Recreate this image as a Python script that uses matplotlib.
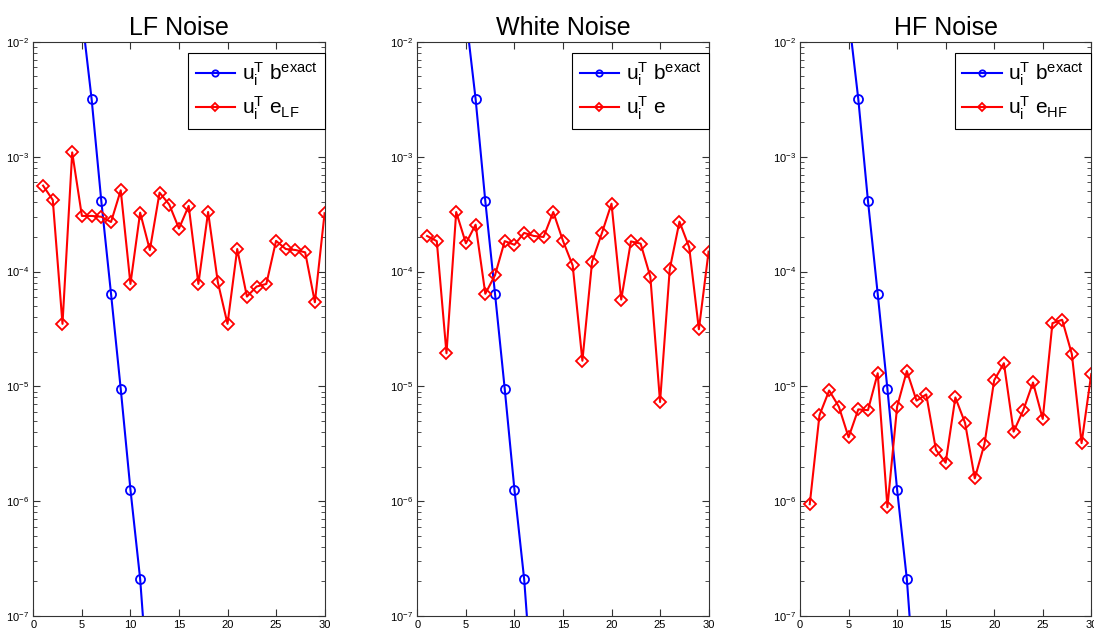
import numpy as np
import matplotlib
matplotlib.use("Agg")
import matplotlib.pyplot as plt
from matplotlib.ticker import LogLocator, NullFormatter

plt.rcParams["font.family"] = ["Liberation Sans", "DejaVu Sans"]
plt.rcParams["mathtext.fontset"] = "custom"
plt.rcParams["mathtext.rm"] = "Liberation Sans"
plt.rcParams["mathtext.it"] = "Liberation Sans:italic"

# index i
idx_exact = [1, 2, 3, 4, 5, 6, 7, 8, 9, 10, 11, 12, 13]
idx_noise = list(range(1, 31))

# |u_i^T b_exact| (same in all panels)
b_exact = [6.0e-1, 3.0e-1, 1.2e-1, 5.0e-2, 1.7e-2, 3.18e-3, 4.1e-4, 6.4e-5,
           9.5e-6, 1.26e-6, 2.1e-7, 1.5e-8, 1.5e-9]

# |u_i^T e| for the three noise types
e_lf = [5.6e-4, 4.2e-4, 3.5e-5, 1.09e-3, 3.05e-4, 3.05e-4, 3.0e-4, 2.7e-4,
        5.1e-4, 7.8e-5, 3.26e-4, 1.54e-4, 4.87e-4, 3.83e-4, 2.37e-4, 3.73e-4,
        7.8e-5, 3.3e-4, 8.1e-5, 3.5e-5, 1.57e-4, 6.05e-5, 7.4e-5, 7.8e-5,
        1.85e-4, 1.57e-4, 1.54e-4, 1.47e-4, 5.4e-5, 3.22e-4]
e_white = [2.04e-4, 1.84e-4, 1.94e-5, 3.3e-4, 1.76e-4, 2.56e-4, 6.4e-5, 9.3e-5,
           1.84e-4, 1.71e-4, 2.17e-4, 2.04e-4, 2.0e-4, 3.3e-4, 1.85e-4, 1.13e-4,
           1.67e-5, 1.22e-4, 2.15e-4, 3.9e-4, 5.7e-5, 1.83e-4, 1.75e-4, 9.0e-5,
           7.3e-6, 1.05e-4, 2.72e-4, 1.63e-4, 3.14e-5, 1.49e-4]
e_hf = [9.4e-7, 5.6e-6, 9.2e-6, 6.65e-6, 3.6e-6, 6.3e-6, 6.2e-6, 1.3e-5,
        8.85e-7, 6.65e-6, 1.36e-5, 7.5e-6, 8.5e-6, 2.8e-6, 2.16e-6, 8.0e-6,
        4.8e-6, 1.58e-6, 3.15e-6, 1.13e-5, 1.59e-5, 4.03e-6, 6.2e-6, 1.08e-5,
        5.2e-6, 3.55e-5, 3.8e-5, 1.91e-5, 3.2e-6, 1.28e-5]

titles = ["LF Noise", "White Noise", "HF Noise"]
noise = [e_lf, e_white, e_hf]
noise_labels = [r"$\mathrm{u_i^T\ e_{LF}}$", r"$\mathrm{u_i^T\ e}$",
                r"$\mathrm{u_i^T\ e_{HF}}$"]
exact_label = r"$\mathrm{u_i^T\ b^{exact}}$"

fig = plt.figure(figsize=(10.94, 6.35), dpi=100)
lefts = [0.0305, 0.3815, 0.7313]
width = 0.2662

for k in range(3):
    ax = fig.add_axes([lefts[k], 0.030, width, 0.904])
    ax.semilogy(idx_exact, b_exact, "-o", color="blue", lw=1.5, ms=6.5,
                mfc="none", mew=1.3, label=exact_label)
    ax.semilogy(idx_noise, noise[k], "-D", color="red", lw=1.5, ms=5.8,
                mfc="none", mew=1.3, label=noise_labels[k])
    ax.set_xlim(0, 30)
    ax.set_ylim(1e-7, 1e-2)
    ax.set_xticks([0, 5, 10, 15, 20, 25, 30])
    ax.yaxis.set_major_locator(LogLocator(base=10, numticks=10))
    ax.yaxis.set_minor_locator(LogLocator(base=10, subs=np.arange(2, 10), numticks=20))
    ax.yaxis.set_minor_formatter(NullFormatter())
    ax.tick_params(which="both", direction="in", top=True, right=True,
                   labelsize=8, pad=3, color="#333333")
    ax.tick_params(which="major", length=5)
    ax.tick_params(which="minor", length=3)
    for s in ax.spines.values():
        s.set_linewidth(0.8)
        s.set_color("#333333")
    ax.set_title(titles[k], fontsize=18, pad=5)
    leg = ax.legend(loc="upper right", bbox_to_anchor=(1.0, 0.981),
                    borderaxespad=0, fontsize=15, fancybox=False,
                    framealpha=1, edgecolor="black", handlelength=1.9,
                    handletextpad=0.3, borderpad=0.35, labelspacing=0.35,
                    markerscale=0.7)
    leg.get_frame().set_linewidth(0.8)

plt.savefig("out.png", dpi=100)
plt.close()
